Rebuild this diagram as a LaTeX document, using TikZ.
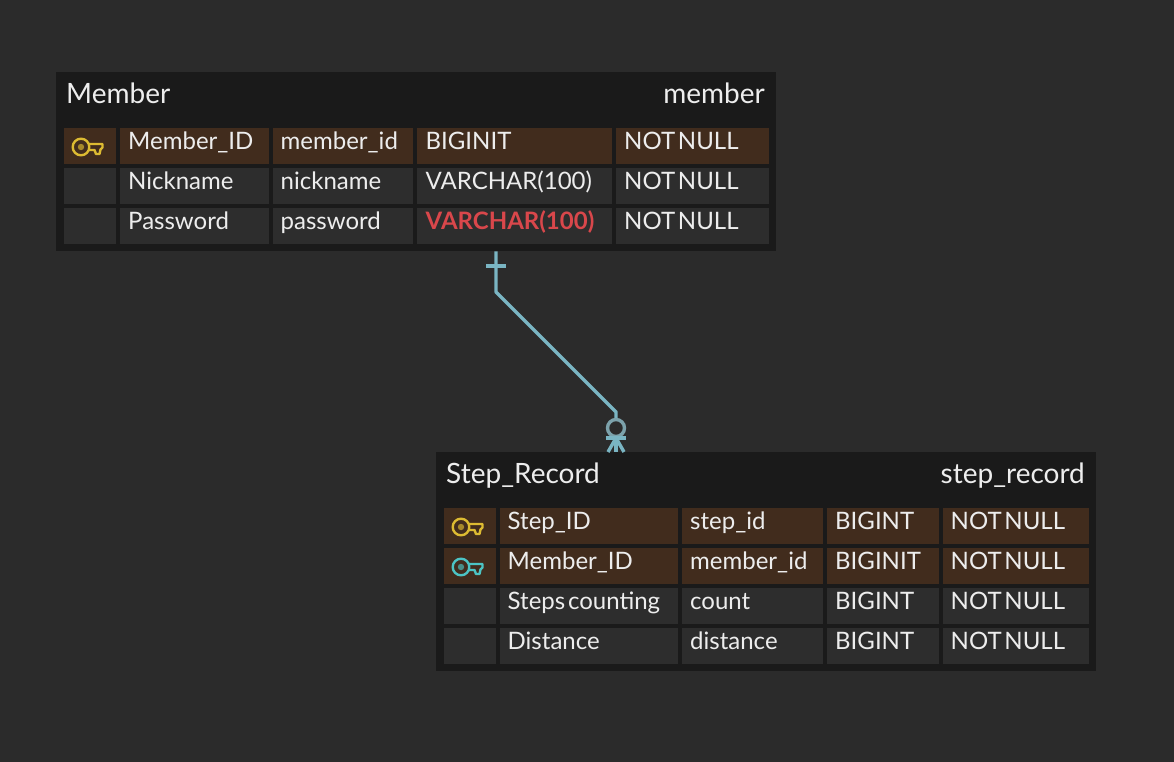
\documentclass[tikz,border=0pt]{standalone}
\usepackage{fontspec}
\setmainfont{Lato}[WordSpace=0.45]
\definecolor{bgc}{HTML}{2B2B2B}
\definecolor{tablec}{HTML}{1A1A1A}
\definecolor{cellc}{HTML}{2D2D2D}
\definecolor{keyrow}{HTML}{412C1D}
\definecolor{txt}{HTML}{EDEDED}
\definecolor{conn}{HTML}{7AB5C3}
\definecolor{pk}{HTML}{DDBB32}
\definecolor{fk}{HTML}{4CC4C4}
\definecolor{redt}{HTML}{D9474B}
\tikzset{
  tablebox/.style={fill=tablec,draw=none,inner sep=0pt,anchor=north west},
  title/.style={anchor=base west,inner sep=0pt,text=txt,font=\fontsize{28}{32}\selectfont},
  titleright/.style={anchor=base east,inner sep=0pt,text=txt,font=\fontsize{28}{32}\selectfont},
  cellbox/.style={fill=cellc,draw=none,inner sep=0pt,anchor=north west},
  keybox/.style={fill=keyrow,draw=none,inner sep=0pt,anchor=north west},
  celltext/.style={anchor=base west,inner sep=0pt,text=txt,font=\fontsize{24}{28}\selectfont},
  redtext/.style={celltext,text=redt,font=\fontsize{24}{28}\selectfont\bfseries},
  relline/.style={draw=conn,line width=3.4pt,line join=round},
  keyline/.style={line width=2.4pt,line join=round,fill=none},
}
% name, x0, y0, x1, y1, style
\newcommand{\cellrect}[6]{\node[#6,minimum width=#4pt-#2pt,minimum height=#5pt-#3pt] (#1) at (#2,#3) {};}
\newcommand{\keyicon}[3]{%
  \begin{scope}[shift={(#1,#2)}]
    \draw[keyline,draw=#3] (0,0) circle (8.3);
    \fill[#3!65!keyrow] (0,0) circle (3.2);
    \draw[keyline,draw=#3] (8.2,-3) -- (21.5,-3) -- (21.5,0.5) -- (19.5,2.5) -- (18.5,7) -- (15,7) -- (13.5,3) -- (8,3);
  \end{scope}}
\begin{document}
\begin{tikzpicture}[x=1pt,y=-1pt]
\useasboundingbox (0,0) rectangle (1174,762);
\fill[bgc] (0,0) rectangle (1174,762);
% Member table
\cellrect{member}{56}{72}{776}{251}{tablebox}
\node[title] (mt) at (66,103.5) {Member};
\node[titleright] (mp) at (765,103.5) {member};
\cellrect{m1a}{64}{128}{116}{164}{keybox}
\cellrect{m1b}{120}{128}{269}{164}{keybox}
\cellrect{m1c}{273}{128}{413}{164}{keybox}
\cellrect{m1d}{417}{128}{612}{164}{keybox}
\cellrect{m1e}{616}{128}{769}{164}{keybox}
\cellrect{m2a}{64}{168}{116}{204}{cellbox}
\cellrect{m2b}{120}{168}{269}{204}{cellbox}
\cellrect{m2c}{273}{168}{413}{204}{cellbox}
\cellrect{m2d}{417}{168}{612}{204}{cellbox}
\cellrect{m2e}{616}{168}{769}{204}{cellbox}
\cellrect{m3a}{64}{208}{116}{244}{cellbox}
\cellrect{m3b}{120}{208}{269}{244}{cellbox}
\cellrect{m3c}{273}{208}{413}{244}{cellbox}
\cellrect{m3d}{417}{208}{612}{244}{cellbox}
\cellrect{m3e}{616}{208}{769}{244}{cellbox}
\keyicon{81}{147}{pk}
\node[celltext] (t1) at (128,149.5) {Member\_ID};
\node[celltext] (t2) at (280.5,149.5) {member\_id};
\node[celltext] (t3) at (425.5,149.5) {BIGINIT};
\node[celltext] (t4) at (624,149.5) {NOT NULL};
\node[celltext] (t5) at (128,189.5) {Nickname};
\node[celltext] (t6) at (280.5,189.5) {nickname};
\node[celltext] (t7) at (425.5,189.5) {VARCHAR(100)};
\node[celltext] (t8) at (624,189.5) {NOT NULL};
\node[celltext] (t9) at (128,229.5) {Password};
\node[celltext] (t10) at (280.5,229.5) {password};
\node[redtext] (t11) at (425.5,229.5) {VARCHAR(100)};
\node[celltext] (t12) at (624,229.5) {NOT NULL};
% Step_Record table
\cellrect{step}{436}{452}{1096}{671}{tablebox}
\node[title] (st) at (446,483.5) {Step\_Record};
\node[titleright] (sp) at (1085,483.5) {step\_record};
\cellrect{s1a}{444}{508}{496}{544}{keybox}
\cellrect{s1b}{500}{508}{678}{544}{keybox}
\cellrect{s1c}{682}{508}{823}{544}{keybox}
\cellrect{s1d}{827}{508}{939}{544}{keybox}
\cellrect{s1e}{943}{508}{1089}{544}{keybox}
\cellrect{s2a}{444}{548}{496}{584}{keybox}
\cellrect{s2b}{500}{548}{678}{584}{keybox}
\cellrect{s2c}{682}{548}{823}{584}{keybox}
\cellrect{s2d}{827}{548}{939}{584}{keybox}
\cellrect{s2e}{943}{548}{1089}{584}{keybox}
\cellrect{s3a}{444}{588}{496}{624}{cellbox}
\cellrect{s3b}{500}{588}{678}{624}{cellbox}
\cellrect{s3c}{682}{588}{823}{624}{cellbox}
\cellrect{s3d}{827}{588}{939}{624}{cellbox}
\cellrect{s3e}{943}{588}{1089}{624}{cellbox}
\cellrect{s4a}{444}{628}{496}{664}{cellbox}
\cellrect{s4b}{500}{628}{678}{664}{cellbox}
\cellrect{s4c}{682}{628}{823}{664}{cellbox}
\cellrect{s4d}{827}{628}{939}{664}{cellbox}
\cellrect{s4e}{943}{628}{1089}{664}{cellbox}
\keyicon{461}{527}{pk}
\keyicon{461}{567}{fk}
\node[celltext] (u1) at (507.5,529.5) {Step\_ID};
\node[celltext] (u2) at (690,529.5) {step\_id};
\node[celltext] (u3) at (835,529.5) {BIGINT};
\node[celltext] (u4) at (950.5,529.5) {NOT NULL};
\node[celltext] (u5) at (507.5,569.5) {Member\_ID};
\node[celltext] (u6) at (690,569.5) {member\_id};
\node[celltext] (u7) at (835,569.5) {BIGINIT};
\node[celltext] (u8) at (950.5,569.5) {NOT NULL};
\node[celltext] (u9) at (507.5,609.5) {Steps counting};
\node[celltext] (u10) at (690,609.5) {count};
\node[celltext] (u11) at (835,609.5) {BIGINT};
\node[celltext] (u12) at (950.5,609.5) {NOT NULL};
\node[celltext] (u13) at (507.5,649.5) {Distance};
\node[celltext] (u14) at (690,649.5) {distance};
\node[celltext] (u15) at (835,649.5) {BIGINT};
\node[celltext] (u16) at (950.5,649.5) {NOT NULL};
% Relation
\coordinate (ra) at (member.south -| 496,0);
\coordinate (rb) at (496,292);
\coordinate (rc) at (616,412);
\coordinate (rd) at (step.north -| 616,0);
\draw[relline] (ra) -- (rb) -- (rc) -- (616,419);
\draw[relline] (486,266) -- (506,266);
\draw[relline,draw=conn!65!gray] (616,428) circle (8.5);
\draw[relline] (606,438) -- (626,438);
\draw[relline] (616,438) -- (rd);
\draw[relline] (616,438) -- (608,452);
\draw[relline] (616,438) -- (624,452);
\end{tikzpicture}
\end{document}
